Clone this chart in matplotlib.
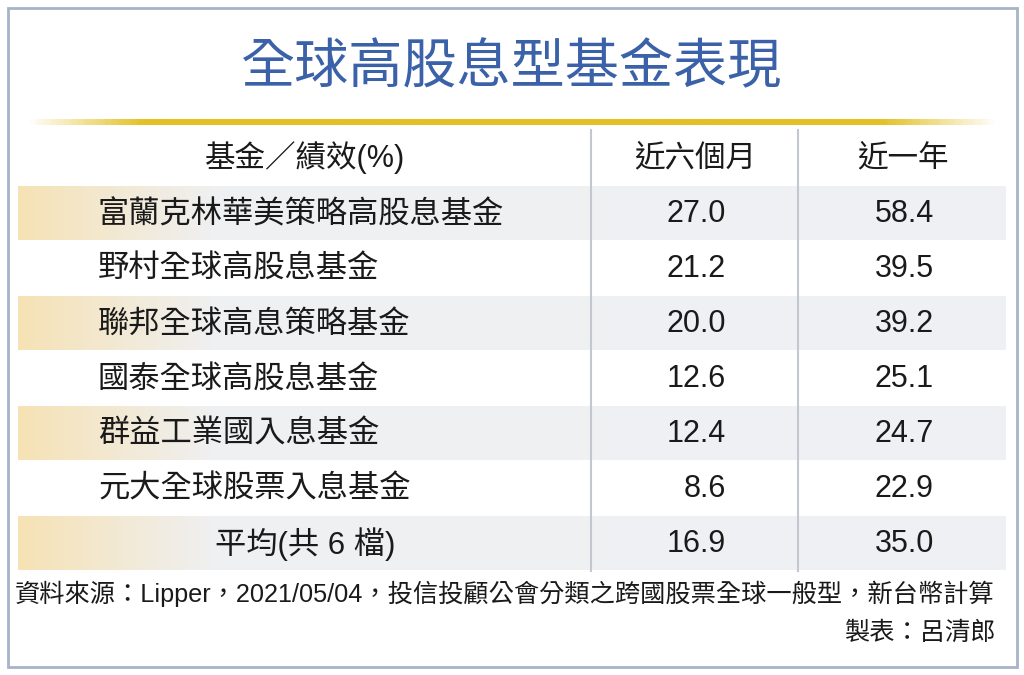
import numpy as np
import matplotlib.pyplot as plt
from matplotlib.colors import LinearSegmentedColormap
from matplotlib.patches import Rectangle

plt.rcParams['font.family'] = ['Liberation Sans', 'Noto Sans CJK TC', 'DejaVu Sans']

# data
title = '全球高股息型基金表現'
col_headers = ['基金／績效(%)', '近六個月', '近一年']
funds = ['富蘭克林華美策略高股息基金', '野村全球高股息基金', '聯邦全球高息策略基金',
         '國泰全球高股息基金', '群益工業國入息基金', '元大全球股票入息基金']
avg_label = '平均(共 6 檔)'
six_month = [27.0, 21.2, 20.0, 12.6, 12.4, 8.6]
one_year = [58.4, 39.5, 39.2, 25.1, 24.7, 22.9]
avg_six = 16.9
avg_year = 35.0
source = '資料來源：Lipper，2021/05/04，投信投顧公會分類之跨國股票全球一般型，新台幣計算'
maker = '製表：呂清郎'

fig = plt.figure(figsize=(10.24, 6.75), dpi=100)
ax = fig.add_axes([0, 0, 1, 1])
ax.set_xlim(0, 1024)
ax.set_ylim(675, 0)
ax.axis('off')

# outer frame
ax.add_patch(Rectangle((8, 8), 1009, 659, fill=False, ec='#a7b3c9', lw=2))

ax.text(512, 68, title, ha='center', va='center', fontsize=39,
        color='#3b62a8', fontweight=500, family=['Noto Sans CJK TC'])

# gold rule with faded ends
gold = LinearSegmentedColormap.from_list(
    'gold', [(0, '#ffffff'), (0.12, '#e4c024'), (0.88, '#e4c024'), (1, '#ffffff')])
ax.imshow(np.linspace(0, 1, 400)[None, :], cmap=gold, aspect='auto',
          extent=(25, 1000, 125, 119), zorder=1)

# striped rows: warm gold on left fading to light grey
band = LinearSegmentedColormap.from_list('band', ['#f6e2b5', '#eff0f2', '#eef0f4'])
grad = np.concatenate([np.linspace(0, 0.5, 60), np.linspace(0.5, 1, 240)])[None, :]
row_top = 186
row_h = 55
n_rows = len(funds) + 1
for i in range(0, n_rows, 2):
    y0 = row_top + i * row_h
    ax.imshow(grad, cmap=band, aspect='auto', extent=(18, 1006, y0 + 54, y0),
              zorder=1)

# column separators
for x in (591, 798):
    ax.plot([x, x], [130, row_top + n_rows * row_h], color='#c3c7cf', lw=1.5, zorder=2)

hx = [305, 695, 903]
num_right = [726, 934]
for x, h in zip(hx, col_headers):
    ax.text(x, 158, h, ha='center', va='center', fontsize=22, color='#1a1a1a', zorder=3)

for i, (name, a, b) in enumerate(zip(funds, six_month, one_year)):
    yc = row_top + i * row_h + 28
    ax.text(98, yc, name, ha='left', va='center', fontsize=22.5, color='#1a1a1a',
            family=['Noto Sans CJK TC'], zorder=3)
    ax.text(num_right[0], yc, f'{a:.1f}', ha='right', va='center', fontsize=22,
            color='#1a1a1a', zorder=3)
    ax.text(num_right[1], yc, f'{b:.1f}', ha='right', va='center', fontsize=22,
            color='#1a1a1a', zorder=3)

yc = row_top + len(funds) * row_h + 28
ax.text(hx[0], yc, avg_label, ha='center', va='center', fontsize=22.5, color='#1a1a1a', zorder=3)
ax.text(num_right[0], yc, f'{avg_six:.1f}', ha='right', va='center', fontsize=22, color='#1a1a1a', zorder=3)
ax.text(num_right[1], yc, f'{avg_year:.1f}', ha='right', va='center', fontsize=22, color='#1a1a1a', zorder=3)

ax.text(15, 594, source, ha='left', va='center', fontsize=18.2, color='#1a1a1a')
ax.text(996, 633, maker, ha='right', va='center', fontsize=18.2, color='#1a1a1a')

fig.savefig('out.png', dpi=100)
